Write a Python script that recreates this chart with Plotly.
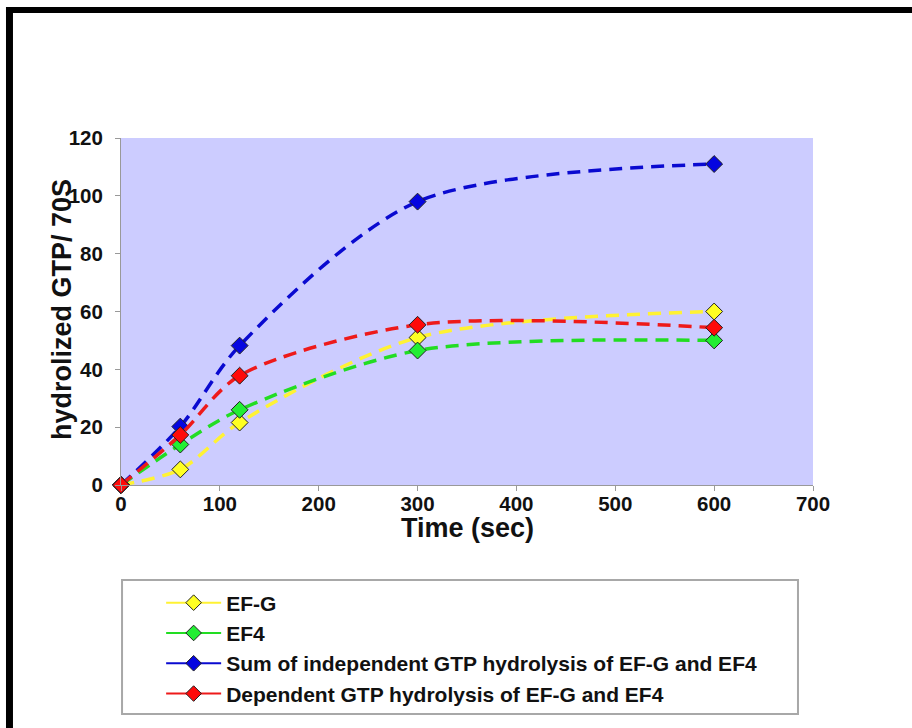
import plotly.graph_objects as go

# Sampling times (s)
time_sec = [0, 60, 120, 300, 600]

# Hydrolysed GTP per 70S ribosome
ef_g = [0, 5.4, 21.6, 51, 60]
ef4 = [0, 14.0, 26.0, 46.5, 50]
sum_independent = [0, 20.2, 48.2, 98, 111]
dependent = [0, 17.3, 37.8, 55.4, 54.4]

series_names = [
    "EF-G",
    "EF4",
    "Sum of independent GTP hydrolysis of EF-G and EF4",
    "Dependent GTP hydrolysis of EF-G and EF4",
]
series_values = [ef_g, ef4, sum_independent, dependent]
line_colors = ["#FFF233", "#22DD22", "#0A0AD0", "#EE1A1A"]
marker_colors = ["#FFFF22", "#22EE33", "#0505E0", "#FF0A0A"]

FONT = "Liberation Sans, Arial, sans-serif"

fig = go.Figure()

for name, vals, lc, mc in zip(series_names, series_values, line_colors, marker_colors):
    fig.add_trace(go.Scatter(
        x=time_sec, y=vals, name=name, mode="lines+markers",
        line=dict(color=lc, width=3.5, dash="13px,8px", shape="spline", smoothing=0.85),
        marker=dict(symbol="diamond", size=13, color=mc,
                    line=dict(color="#222222", width=1)),
        cliponaxis=False, showlegend=False,
    ))

# Legend entries with solid line samples
for i, (name, lc, mc) in enumerate(zip(series_names, line_colors, marker_colors)):
    fig.add_trace(go.Scatter(
        x=[None], y=[None], name=name, mode="lines+markers",
        line=dict(color=lc, width=2),
        marker=dict(symbol="diamond", size=12, color=mc,
                    line=dict(color="#222222", width=1)),
        legendgroup=f"g{i}",
    ))

axis_common = dict(
    showgrid=False, zeroline=False, showline=True,
    linecolor="#999999", linewidth=1,
    ticks="outside", tickcolor="#999999", tickwidth=1,
    tickfont=dict(family=FONT, size=20.5, color="#111111", weight="bold"),
)

fig.update_xaxes(range=[0, 700], dtick=100, tick0=0, ticklen=5,
                 ticklabelstandoff=-5, **axis_common)
fig.update_yaxes(range=[0, 120], dtick=20, tick0=0, ticklen=5,
                 ticklabelstandoff=8, **axis_common)

shapes = [
    # legend frame
    dict(type="rect", xref="paper", yref="paper",
         x0=0.0015, x1=0.9783, y0=-0.6599, y1=-0.2738,
         line=dict(color="#A8A8A8", width=2), fillcolor="rgba(0,0,0,0)"),
    # page frame (top and left edges)
    dict(type="rect", xref="paper", yref="paper",
         x0=-0.1662, x1=1.16, y0=1.3602, y1=1.3775,
         line=dict(width=0), fillcolor="#000000"),
    dict(type="rect", xref="paper", yref="paper",
         x0=-0.1662, x1=-0.1561, y0=-0.73, y1=1.3775,
         line=dict(width=0), fillcolor="#000000"),
]

annotations = [
    dict(text="Time (sec)", xref="paper", yref="paper", x=0.5, y=-0.124,
         xanchor="center", yanchor="middle", showarrow=False,
         font=dict(family=FONT, size=27, color="#111111", weight="bold")),
    dict(text="hydrolized GTP/ 70S", xref="paper", yref="paper", x=-0.0853, y=0.507,
         xanchor="center", yanchor="middle", showarrow=False, textangle=-90,
         font=dict(family=FONT, size=27, color="#111111", weight="bold")),
]

fig.update_layout(
    width=912, height=728,
    margin=dict(l=121, r=99, t=138, b=243, pad=0),
    paper_bgcolor="#FFFFFF",
    plot_bgcolor="#CCCCFF",
    shapes=shapes,
    annotations=annotations,
    legend=dict(
        x=0.058, y=-0.281, xanchor="left", yanchor="top",
        bgcolor="rgba(0,0,0,0)", borderwidth=0,
        font=dict(family=FONT, size=21, color="#111111", weight="bold"),
        itemwidth=55, tracegroupgap=0, traceorder="normal",
    ),
)

fig.write_html("out.html")
